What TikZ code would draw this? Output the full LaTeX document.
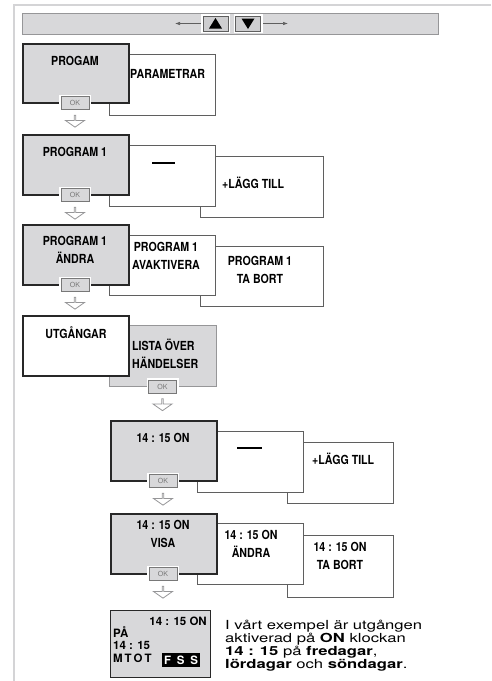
\documentclass[tikz,border=0pt]{standalone}
\usepackage{fontspec}
\setmainfont{TeX Gyre Heros}
\newfontfamily\cndfont[FakeStretch=0.85]{TeX Gyre Heros}
\newfontfamily\widefont[FakeStretch=1.33]{TeX Gyre Heros}
\usetikzlibrary{shapes.arrows,arrows.meta}

\definecolor{menugray}{RGB}{216,216,218}
\definecolor{keygray}{RGB}{206,206,208}
\definecolor{boxline}{RGB}{40,40,40}
\definecolor{paneline}{RGB}{95,95,95}
\definecolor{softline}{RGB}{150,150,152}
\definecolor{framegray}{RGB}{212,212,214}
\definecolor{okgray}{RGB}{120,120,120}

\tikzset{
  menubox/.style={draw=boxline, line width=1.5, fill=menugray, anchor=north west,
    inner sep=0, minimum width=106, minimum height=60},
  panebox/.style={draw=paneline, line width=1, fill=white, anchor=north west,
    inner sep=0, minimum width=106, minimum height=61},
  lbl/.style={font=\cndfont\bfseries\fontsize{12.5}{18}\selectfont, inner sep=0, align=center},
  lcdtxt/.style={font=\bfseries\fontsize{11.5}{12}\selectfont, inner sep=0},
  okbtn/.style={draw=okgray, line width=0.8, fill=menugray, minimum width=28, minimum height=13,
    inner sep=0, text=okgray, font=\fontsize{7}{7}\selectfont,
    preaction={draw=white, line width=4}},
  okarrow/.style={single arrow, draw=softline, line width=0.8, fill=white,
    shape border rotate=270, minimum width=19, minimum height=12,
    single arrow head extend=5, single arrow tip angle=110, inner sep=0},
  keybtn/.style={draw=paneline, line width=1, fill=keygray, minimum width=25, minimum height=15,
    inner sep=0, preaction={draw=white, line width=4}},
  hdrline/.style={draw=paneline, line width=0.6, -{Latex[length=5,width=3.5]}, shorten <=2}
}

\begin{document}
\begin{tikzpicture}[x=1pt, y=-1pt]
\useasboundingbox (0,0) rectangle (491,681);

% ===== Frame and header bar =====
\draw[framegray, line width=1.2] (14,681) -- (14,5) -- (491,5);
\node[draw=softline, line width=1.2, fill=menugray, anchor=north west, inner sep=0,
  minimum width=416, minimum height=21] (hdr) at (22,13) {};

% arrow keys
\node[keybtn] (up) at (215.5,23.5) {};
\node[keybtn] (dn) at (248,23.5) {};
\fill ([shift={(-6.5,5)}]up.center) -- ([shift={(6.5,5)}]up.center) -- ([shift={(0,-5.5)}]up.center) -- cycle;
\fill ([shift={(-6.5,-5)}]dn.center) -- ([shift={(6.5,-5)}]dn.center) -- ([shift={(0,5.5)}]dn.center) -- cycle;
\coordinate (lt) at (175,23.5);
\coordinate (rt) at (288,23.5);
\draw[hdrline] (up.west) -- (lt);
\draw[hdrline] (dn.east) -- (rt);

% ===== Row 1: PROGAM =====
\node[panebox] (s1) at (109,54) {};
\node[menubox, minimum height=59] (p1) at (22,43) {};
\node[lbl, anchor=base] (p1t) at (75,65) {PROGAM};
\node[lbl, anchor=base west] (s1t) at (130,78) {PARAMETRAR};
\node[okbtn] (ok1) at (75,103) {OK};
\node[okarrow] (a1) at ([yshift=-11]ok1.south) {};

% ===== Row 2: PROGRAM 1 =====
\node[panebox, minimum width=123] (t2) at (200,156) {};
\node[panebox] (s2) at (109,145) {};
\node[menubox] (p2) at (22,134) {};
\node[lbl, anchor=base] (p2t) at (75,156.5) {PROGRAM 1};
\node[inner sep=0] (s2t) at (163.5,163) {\rule{23pt}{1.2pt}};
\node[lbl, anchor=base west] (t2t) at (222,188) {+LÄGG TILL};
\node[okbtn] (ok2) at (75,195) {OK};
\node[okarrow] (a2) at ([yshift=-11]ok2.south) {};

% ===== Row 3: PROGRAM 1 ÄNDRA =====
\node[panebox, minimum width=123, minimum height=60] (t3) at (200,246) {};
\node[panebox, minimum height=60] (s3) at (109,235) {};
\node[menubox] (p3) at (22,224) {};
\node[lbl] (p3t) at (75,249.5) {PROGRAM 1\\ÄNDRA};
\node[lbl] (s3t) at (166,256) {PROGRAM 1\\AVAKTIVERA};
\node[lbl] (t3t) at (260,270) {PROGRAM 1\\TA BORT};
\node[okbtn] (ok3) at (75,285) {OK};
\node[okarrow] (a3) at ([yshift=-11]ok3.south) {};

% ===== Row 4: UTGÅNGAR =====
\node[menubox, draw=softline, line width=1, minimum width=107, minimum height=61] (s4) at (109,325) {};
\node[menubox, fill=white] (p4) at (22,315) {};
\node[lbl, anchor=base] (p4t) at (76,338) {UTGÅNGAR};
\node[lbl, align=left, anchor=west] (s4t) at (132,354) {LISTA ÖVER\\HÄNDELSER};
\node[okbtn] (ok4) at (162.5,386.5) {OK};
\node[okarrow] (a4) at ([yshift=-11]ok4.south) {};

% ===== Row 5: 14 : 15 ON =====
\node[panebox] (t5) at (287,442) {};
\node[panebox] (s5) at (197,431) {};
\node[menubox] (p5) at (110,420) {};
\node[lbl, anchor=base] (p5t) at (163,442.5) {14 : 15 ON};
\node[inner sep=0] (s5t) at (249.5,448) {\rule{25pt}{1.2pt}};
\node[lbl, anchor=base west] (t5t) at (312,464.5) {+LÄGG TILL};
\node[okbtn] (ok5) at (163,481) {OK};
\node[okarrow] (a5) at ([yshift=-11]ok5.south) {};

% ===== Row 6: 14 : 15 ON VISA =====
\node[panebox, minimum height=62] (t6) at (287,535) {};
\node[panebox] (s6) at (197,523) {};
\node[menubox] (p6) at (110,513) {};
\node[lbl] (p6t) at (163,533.5) {14 : 15 ON\\VISA};
\node[lbl] (s6t) at (251,544) {14 : 15 ON\\ÄNDRA};
\node[lbl] (t6t) at (340,556) {14 : 15 ON\\TA BORT};
\node[okbtn] (ok6) at (163,574) {OK};
\node[okarrow] (a6) at ([yshift=-11]ok6.south) {};

% ===== Display =====
\node[menubox, line width=1.2, minimum width=100, minimum height=67] (lcd) at (110,610) {};
\node[lcdtxt, anchor=base east] (lcd1) at (207,625) {14 : 15 ON};
\node[lcdtxt, anchor=base west] (lcd2) at (113,637.5) {PÅ};
\node[lcdtxt, anchor=base west] (lcd3) at (113,649) {14 : 15};
\node[lcdtxt, anchor=base west] (lcd4) at (113,662) {M\,T\,O\,T};
\node[lcdtxt, fill=black, text=white, minimum width=38, minimum height=14] (lcd5) at (181,660) {F\enspace S\enspace S};

% note
\node[font=\widefont\fontsize{12.5}{13}\selectfont, align=left, inner sep=0, anchor=north west] (note)
  at (225,619.5) {I vårt exempel är utgången\\aktiverad på \textbf{ON} klockan\\
  \textbf{14 : 15} på \textbf{fredagar},\\\textbf{lördagar} och \textbf{söndagar}.};

\end{tikzpicture}
\end{document}
